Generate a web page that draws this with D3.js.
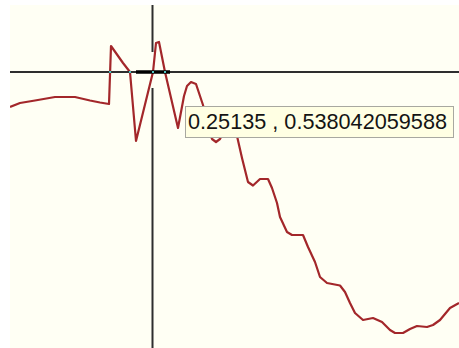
<!DOCTYPE html>
<html>
<head>
<meta charset="utf-8">
<script src="https://cdn.jsdelivr.net/npm/d3@7"></script>
<style>
  html, body { margin: 0; padding: 0; background: #ffffff; }
  svg { display: block; }
</style>
</head>
<body>
<script>
// Sampled signal
const xs = [0.10885, 0.11885, 0.13385, 0.15385, 0.17385, 0.18885, 0.19885, 0.20785, 0.20985,
  0.22185, 0.22885, 0.23485, 0.25185, 0.25485, 0.25785, 0.26385, 0.27685, 0.28285, 0.28585,
  0.28985, 0.29485, 0.29885, 0.30185, 0.30585, 0.31085, 0.31485, 0.31885, 0.32485, 0.33185,
  0.33585, 0.34085, 0.34685, 0.35185, 0.35885, 0.36685, 0.37085, 0.37585, 0.37885, 0.38585,
  0.39085, 0.40185, 0.40685, 0.41385, 0.41885, 0.42585, 0.43885, 0.44385, 0.44885, 0.45385,
  0.46185, 0.47185, 0.48085, 0.48885, 0.49385, 0.50185, 0.50885, 0.51585, 0.52585, 0.53185,
  0.53885, 0.54885, 0.55785];
const ys = [0.468, 0.476, 0.481, 0.488, 0.488, 0.481, 0.477, 0.474, 0.590,
  0.556, 0.538, 0.400, 0.538, 0.596, 0.598, 0.538, 0.426, 0.490, 0.510,
  0.518, 0.514, 0.490, 0.472, 0.432, 0.404, 0.398, 0.404, 0.428, 0.434,
  0.410, 0.366, 0.318, 0.311, 0.324, 0.324, 0.306, 0.276, 0.248, 0.218,
  0.212, 0.212, 0.188, 0.158, 0.128, 0.116, 0.111, 0.098, 0.076, 0.056,
  0.042, 0.046, 0.038, 0.022, 0.016, 0.016, 0.024, 0.030, 0.028, 0.032,
  0.042, 0.066, 0.076];

// Cursor readout
const cursorX = 0.25135;
const cursorY = 0.538042059588;
const cursorLabel = "0.25135 , 0.538042059588";
// Bold run of the horizontal hair and the break in the vertical hair
const hairBoldX = [0.23485, 0.26885];
const hairGapY = [0.506, 0.578];

const W = 459, H = 348;
const plot = { left: 10, top: 5, right: W, bottom: H };

const x = d3.scaleLinear().domain([0.10885, 0.55785]).range([plot.left, plot.right]);
const y = d3.scaleLinear().domain([-0.014, 0.672]).range([plot.bottom, plot.top]);

const svg = d3.select("body").append("svg").attr("width", W).attr("height", H);

svg.append("defs").append("clipPath").attr("id", "plotclip")
  .append("rect")
  .attr("x", plot.left).attr("y", plot.top)
  .attr("width", plot.right - plot.left).attr("height", plot.bottom - plot.top);

svg.append("rect")
  .attr("x", plot.left).attr("y", plot.top)
  .attr("width", plot.right - plot.left).attr("height", plot.bottom - plot.top)
  .attr("fill", "#fffff4");

const pts = xs.map((v, i) => [v, ys[i]]);
const line = d3.line().x(d => x(d[0])).y(d => y(d[1]));

const g = svg.append("g").attr("clip-path", "url(#plotclip)");

g.append("path")
  .datum(pts)
  .attr("d", line)
  .attr("fill", "none")
  .attr("stroke", "#a3272a")
  .attr("stroke-width", 2.2)
  .attr("stroke-linejoin", "round");

// Crosshair
const cx = x(cursorX), cy = y(cursorY);
const hair = "#2e2e2e";
g.append("line")
  .attr("x1", plot.left).attr("x2", plot.right)
  .attr("y1", cy).attr("y2", cy)
  .attr("stroke", hair).attr("stroke-width", 2);
g.append("line")
  .attr("x1", x(hairBoldX[0])).attr("x2", x(hairBoldX[1]))
  .attr("y1", cy).attr("y2", cy)
  .attr("stroke", "#000").attr("stroke-width", 3.5);
g.append("line")
  .attr("x1", cx).attr("x2", cx)
  .attr("y1", plot.top).attr("y2", y(hairGapY[1]))
  .attr("stroke", hair).attr("stroke-width", 2);
g.append("line")
  .attr("x1", cx).attr("x2", cx)
  .attr("y1", y(hairGapY[0])).attr("y2", plot.bottom)
  .attr("stroke", hair).attr("stroke-width", 2);

// Points where the signal crosses the horizontal hair
const crossings = [];
for (let i = 1; i < pts.length; i++) {
  const [x0, y0] = pts[i - 1], [x1, y1] = pts[i];
  if ((y0 - cursorY) * (y1 - cursorY) <= 0 && y0 !== y1) {
    const t = (cursorY - y0) / (y1 - y0);
    if (t > 0 && t <= 1) crossings.push(x0 + t * (x1 - x0));
  }
}
g.selectAll("rect.cross")
  .data(crossings)
  .join("rect")
  .attr("class", "cross")
  .attr("x", d => x(d) - 1).attr("y", cy - 1)
  .attr("width", 2).attr("height", 2)
  .attr("fill", "#4fc4c4");

// Readout tooltip
const tip = svg.append("g");
tip.append("rect")
  .attr("x", 185.5).attr("y", 106.5)
  .attr("width", 268).attr("height", 31)
  .attr("fill", "#ffffe3")
  .attr("stroke", "#a8a8a0").attr("stroke-width", 1);
tip.append("text")
  .attr("x", 188).attr("y", 129)
  .attr("font-family", "Liberation Sans, Arial, sans-serif")
  .attr("font-size", 22)
  .attr("fill", "#141414")
  .attr("textLength", 259)
  .attr("lengthAdjust", "spacingAndGlyphs")
  .text(cursorLabel);
</script>
</body>
</html>
